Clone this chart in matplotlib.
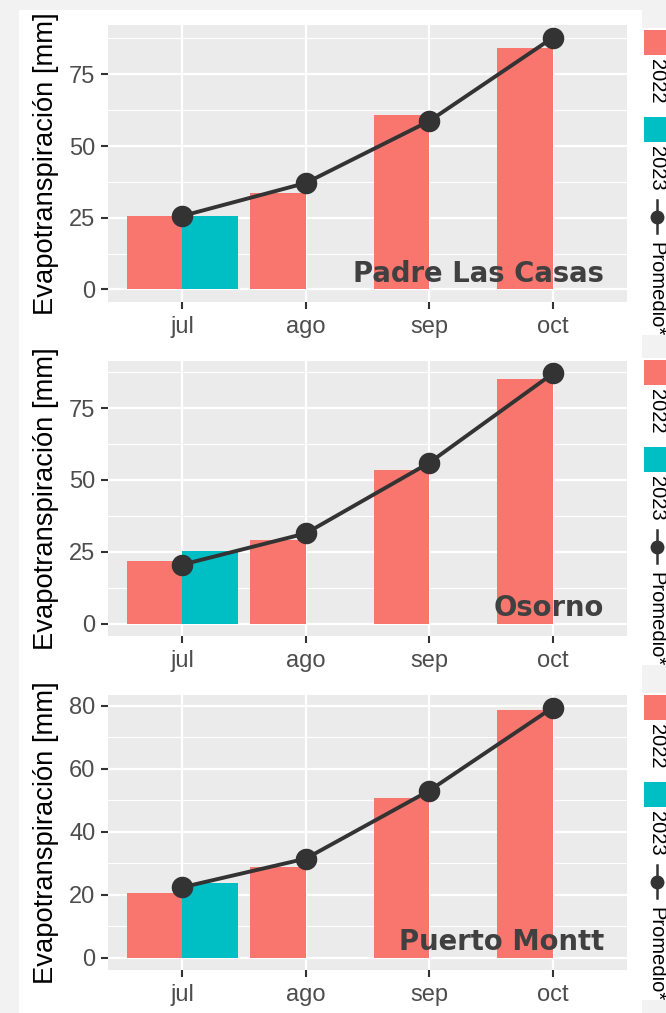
import numpy as np
import matplotlib
matplotlib.use("Agg")
import matplotlib.pyplot as plt
from matplotlib.patches import Rectangle
from matplotlib.lines import Line2D

# ---------------- data ----------------
months = ["jul", "ago", "sep", "oct"]
stations = ["Padre Las Casas", "Osorno", "Puerto Montt"]
nan = np.nan
pl_2022 = [25.5, 33.5, 60.8, 84.3]
pl_2023 = [25.5, nan, nan, nan]
pl_prom = [25.6, 37.1, 58.7, 87.8]
os_2022 = [21.7, 29.0, 53.5, 85.3]
os_2023 = [25.3, nan, nan, nan]
os_prom = [20.5, 31.4, 56.0, 87.1]
pm_2022 = [20.4, 28.9, 50.6, 78.7]
pm_2023 = [23.7, nan, nan, nan]
pm_prom = [22.3, 31.4, 53.0, 79.4]
series_2022 = [pl_2022, os_2022, pm_2022]
series_2023 = [pl_2023, os_2023, pm_2023]
series_prom = [pl_prom, os_prom, pm_prom]
major_ticks = [[0, 25, 50, 75], [0, 25, 50, 75], [0, 20, 40, 60, 80]]
minor_ticks = [[12.5, 37.5, 62.5, 87.5], [12.5, 37.5, 62.5, 87.5], [10, 30, 50, 70]]
legend_labels = ["2022", "2023", "Promedio*"]

C22 = "#F8766D"
C23 = "#00BFC4"
CLINE = "#333333"

W, H = 666, 1013
fig = plt.figure(figsize=(W / 100, H / 100), dpi=100)
fig.patch.set_facecolor("#F2F2F2")

def fx(x):
    return x / W

def fy(y):
    return 1 - y / H

def frect(x0, y0, x1, y1, color, z=-10):
    fig.patches.append(Rectangle((fx(x0), fy(y1)), fx(x1) - fx(x0), fy(y0) - fy(y1),
                                 transform=fig.transFigure, facecolor=color,
                                 edgecolor="none", zorder=z))

# panel white backgrounds
panel_img = [(10, 345), (345, 680), (680, 1013)]
for (a, b) in panel_img:
    frect(19, a, 642, b, "white", z=-10)

axes_px = [(25, 302), (361, 636), (695, 970)]
legend_top = [28, 358, 693]

tick_font = dict(family=["Liberation Sans", "DejaVu Sans"], size=17)

for i, (t, b) in enumerate(axes_px):
    ax = fig.add_axes([fx(108), fy(b), fx(627) - fx(108), fy(t) - fy(b)])
    ax.set_zorder(1)
    ax.set_facecolor("#EBEBEB")
    for s in ax.spines.values():
        s.set_visible(False)
    x = np.arange(1, len(months) + 1)
    v22 = np.array(series_2022[i], dtype=float)
    v23 = np.array(series_2023[i], dtype=float)
    vp = np.array(series_prom[i], dtype=float)
    ax.bar(x - 0.225, v22, width=0.45, color=C22, zorder=2)
    ax.bar(x + 0.225, v23, width=0.45, color=C23, zorder=2)
    ax.plot(x, vp, color=CLINE, lw=2.8, zorder=3, solid_capstyle="butt")
    ax.plot(x, vp, "o", color=CLINE, ms=14.5, zorder=4)
    maxv = np.nanmax(np.concatenate([v22, v23, vp]))
    ax.set_ylim(-0.05 * maxv, 1.05 * maxv)
    ax.set_xlim(0.4, len(months) + 0.6)
    ax.set_xticks(x)
    ax.set_xticklabels(months, fontdict=tick_font, color="#4D4D4D")
    ax.set_yticks(major_ticks[i])
    ax.set_yticklabels([str(v) for v in major_ticks[i]], fontdict=tick_font, color="#4D4D4D")
    ax.set_yticks(minor_ticks[i], minor=True)
    ax.tick_params(axis="both", which="major", length=5, width=1.5, color="#333333", pad=4)
    ax.tick_params(axis="x", which="major", pad=5)
    ax.tick_params(axis="both", which="minor", length=0)
    ax.grid(True, which="major", color="white", lw=1.6, zorder=1)
    ax.grid(True, which="minor", axis="y", color="white", lw=0.8, zorder=1)
    ax.set_axisbelow(True)
    ax.text(0.956, 0.072, stations[i], transform=ax.transAxes, ha="right", va="baseline",
            fontsize=19.8, fontweight="bold", color="#404040", family="DejaVu Sans", zorder=5)
    fig.text(fx(46), fy((t + b) / 2), "Evapotranspiración [mm]", rotation=90,
             ha="center", va="center", fontsize=19.7, color="black",
             family=["Liberation Sans", "DejaVu Sans"])

    # legend (rotated, cut at the right edge)
    lt = legend_top[i]
    frect(642, lt, 666, lt + 307, "white", z=-9)
    frect(644, lt + 2, 670, lt + 27, C22, z=-8)
    frect(644, lt + 89, 670, lt + 114, C23, z=-8)
    lf = dict(rotation=-90, ha="center", va="top", fontsize=14.5,
              family=["Liberation Sans", "DejaVu Sans"], color="black")
    fig.text(fx(656), fy(lt + 31), legend_labels[0], **lf)
    fig.text(fx(656), fy(lt + 118), legend_labels[1], **lf)
    fig.text(fx(656), fy(lt + 214), legend_labels[2], **lf)
    fig.lines.append(Line2D([fx(657), fx(657)], [fy(lt + 172), fy(lt + 205)],
                            transform=fig.transFigure, color=CLINE, lw=1.8, zorder=3))
    fig.lines.append(Line2D([fx(657)], [fy(lt + 188.5)], marker="o", ms=9,
                            transform=fig.transFigure, color=CLINE, zorder=3))

fig.savefig("out.png", dpi=100, facecolor=fig.get_facecolor())
